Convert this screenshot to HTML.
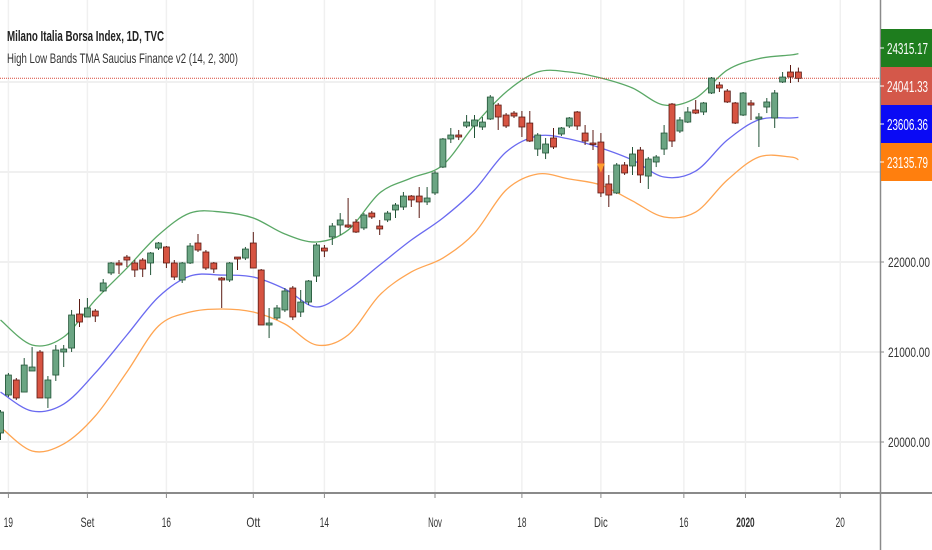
<!DOCTYPE html>
<html><head><meta charset="utf-8"><style>
html,body{margin:0;padding:0;background:#fff;}
svg{display:block;font-family:"Liberation Sans",sans-serif;}
</style></head><body>
<svg id="chart" width="932" height="550" viewBox="0 0 932 550" xmlns="http://www.w3.org/2000/svg">
<rect width="932" height="550" fill="#fff"/>
<g id="grid"></g>
<g id="bands"></g>
<g id="candles"></g>
<g id="axes"></g>
<text x="7" y="41" font-size="15" font-weight="bold" fill="#222" textLength="157" lengthAdjust="spacingAndGlyphs">Milano Italia Borsa Index, 1D, TVC</text>
<text x="7" y="63" font-size="14" fill="#333" textLength="231" lengthAdjust="spacingAndGlyphs">High Low Bands TMA Saucius Finance v2 (14, 2, 300)</text>
</svg>
<script>
const opens=[20100,20522,20689,20555,20789,21000,20489,20744,21000,21044,21422,21389,21455,21678,21878,21989,22055,21989,22022,21989,22155,22167,21989,21800,21989,22211,22111,21989,21822,21800,22055,22044,22211,21911,21300,21378,21467,21711,21444,21555,21844,22155,22278,22411,22411,22444,22378,22544,22400,22467,22578,22611,22733,22733,22667,22767,23055,23367,23411,23511,23511,23500,23589,23744,23633,23655,23611,23544,23255,23211,23378,23422,23511,23667,23433,23322,23333,22867,22767,23078,23067,23244,22955,23111,23255,23755,23455,23555,23689,23667,23878,23967,23900,23767,23633,23767,23589,23722,23600,24000,24111,24111];
const highs=[20355,20767,20711,20933,21055,21022,20733,21078,21078,21467,21589,21600,21478,21811,22000,22022,22078,22022,22044,22111,22222,22178,22022,22000,22211,22311,22133,22000,21833,22000,22044,22167,22333,21922,21489,21522,21711,21733,21689,21800,22211,22189,22433,22544,22711,22478,22544,22567,22467,22567,22655,22778,22744,22833,22833,23011,23378,23489,23467,23633,23633,23611,23855,23767,23655,23678,23678,23678,23433,23378,23489,23500,23611,23678,23522,23467,23433,22967,23100,23111,23278,23278,23167,23189,23522,23767,23611,23722,23800,23778,24055,24000,23922,23778,23889,23800,23655,23822,23911,24111,24189,24160];
const lows=[20022,20500,20467,20555,20789,20489,20378,20678,20833,21000,21278,21389,21333,21667,21855,21867,21944,21833,21833,21855,22133,21933,21800,21767,21978,22111,21911,21878,21489,21778,21911,22022,21933,21300,21155,21355,21444,21355,21389,21522,21778,22055,22189,22300,22378,22322,22355,22478,22300,22444,22489,22578,22611,22489,22633,22744,23044,23322,23355,23489,23378,23467,23578,23467,23489,23600,23389,23333,23178,23144,23255,23400,23489,23467,23300,23244,22722,22611,22755,22967,22967,22878,22811,23055,23189,23278,23433,23544,23644,23633,23867,23889,23767,23533,23622,23578,23278,23655,23489,23989,23989,23999];
const closes=[20333,20744,20489,20855,20833,20489,20689,21022,21033,21411,21333,21489,21400,21767,21989,21967,22022,21911,21922,22100,22211,21989,21833,21989,22178,22133,21933,21922,21800,21989,22033,22144,21933,21300,21322,21489,21678,21389,21555,21789,22189,22122,22400,22467,22389,22333,22522,22500,22367,22544,22633,22733,22689,22667,22711,22989,23367,23411,23389,23555,23578,23555,23833,23611,23511,23622,23500,23344,23411,23311,23278,23489,23600,23511,23344,23311,22767,22744,23078,22989,23200,22967,23144,23167,23433,23344,23578,23667,23655,23767,24044,23933,23778,23544,23878,23744,23611,23778,23878,24055,24055,24041];
const bandIdx=[0,4,8,12,16,20,24,28,32,36,40,44,48,52,56,60,64,68,72,76,80,84,88,92,96,100,101];
const upperBand=[21355,21078,21167,21578,21933,22300,22544,22555,22489,22311,22222,22355,22767,22933,23078,23522,23889,24111,24111,24044,23933,23744,23822,24133,24260,24300,24315];
const middleBand=[20555,20344,20422,20767,21189,21611,21844,21855,21833,21700,21500,21689,21967,22244,22489,22800,23222,23400,23367,23267,23133,22944,23011,23355,23580,23600,23606];
const lowerBand=[20167,19900,19978,20289,20778,21289,21444,21478,21444,21311,21078,21189,21633,21889,22044,22322,22800,22978,22922,22855,22678,22500,22555,22911,23167,23167,23136];
const yTicks=[20000,21000,22000,23000,24000];
const yTickLabels=["20000.00","21000.00","22000.00","",""];
const xTickLabels=["19","Set","16","Ott","14","Nov","18","Dic","16","2020","20"];
const xTickIdx=[1,11,21,32,41,55,66,76,86.5,94.3,106.3];
const lastValues=[24315.17,24041.33,23606.36,23135.79];

const NS="http://www.w3.org/2000/svg";
function y(p){return 442-(p-20000)*0.09;}
function x(i){return 0.5+7.9*i;}
function mk(tag,attrs,parent){const e=document.createElementNS(NS,tag);for(const k in attrs)e.setAttribute(k,attrs[k]);parent.appendChild(e);return e;}
const grid=document.getElementById('grid'),bands=document.getElementById('bands'),cg=document.getElementById('candles'),ax=document.getElementById('axes');

yTicks.forEach((t,k)=>{const l=mk('line',{x1:0,x2:880,y1:y(t),y2:y(t),stroke:'#ebebeb','stroke-width':1.5},grid);

});
xTickIdx.forEach(i=>{const l=mk('line',{x1:x(i),x2:x(i),y1:0,y2:492,stroke:'#f0f0f0','stroke-width':1.5},grid);

});

function smooth(vals){const pts=vals.map((v,k)=>[x(bandIdx[k]),y(v)]);let d='M'+pts[0][0]+','+pts[0][1];
for(let k=0;k<pts.length-1;k++){const p0=pts[Math.max(0,k-1)],p1=pts[k],p2=pts[k+1],p3=pts[Math.min(pts.length-1,k+2)];
d+=' C'+(p1[0]+(p2[0]-p0[0])/6)+','+(p1[1]+(p2[1]-p0[1])/6)+' '+(p2[0]-(p3[0]-p1[0])/6)+','+(p2[1]-(p3[1]-p1[1])/6)+' '+p2[0]+','+p2[1];}return d;}
const u=mk('path',{d:smooth(upperBand),fill:'none',stroke:'#5aa866','stroke-width':1.3},bands);


const m=mk('path',{d:smooth(middleBand),fill:'none',stroke:'#6a6af0','stroke-width':1.3},bands);


const lo=mk('path',{d:smooth(lowerBand),fill:'none',stroke:'#ffa552','stroke-width':1.3},bands);



const pl=mk('line',{x1:0,x2:880,y1:y(closes[closes.length-1]),y2:y(closes[closes.length-1]),stroke:'#d8483a','stroke-width':1,'stroke-dasharray':'1,1'},bands);



closes.forEach((c,i)=>{const o=opens[i],up=c>=o;const g=mk('g',{},cg);


const cx=x(i),stroke=up?'#225437':'#5b1a13';
mk('line',{x1:cx,x2:cx,y1:y(highs[i]),y2:y(lows[i]),stroke:stroke,'stroke-width':1},g);
const top=y(Math.max(o,c)),h=Math.max(1.5,Math.abs(y(o)-y(c)));
mk('rect',{x:cx-3,y:top,width:6,height:h,fill:up?'#6ba583':'#d75442',stroke:stroke,'stroke-width':0.8},g);});

const mkr=mk('path',{d:'M'+(x(76)-4)+','+(y(23050)-4)+' L'+(x(76)+4)+','+(y(23050)-4)+' L'+x(76)+','+(y(23050)+5)+' Z',fill:'#ff9d2e'},cg);



const va=mk('line',{x1:880.5,x2:880.5,y1:0,y2:550,stroke:'#8a8a8a','stroke-width':1.5},ax);


const ha=mk('line',{x1:0,x2:932,y1:493,y2:493,stroke:'#8a8a8a','stroke-width':2},ax);



yTicks.forEach((t,k)=>{if(!yTickLabels[k])return;
mk('line',{x1:880,x2:884,y1:y(t),y2:y(t),stroke:'#8a8a8a'},ax);
const tx=mk('text',{x:888,y:y(t)+5,'font-size':14,fill:'#333',textLength:42,lengthAdjust:'spacingAndGlyphs'},ax);


tx.textContent=yTickLabels[k];});

xTickIdx.forEach((i,k)=>{mk('line',{x1:x(i),x2:x(i),y1:494,y2:498,stroke:'#8a8a8a'},ax);
const lab=xTickLabels[k];
const tx=mk('text',{x:x(i),y:527,'font-size':14,fill:'#333','text-anchor':'middle','font-weight':lab==='2020'?'bold':'normal',textLength:lab.length*4.6,lengthAdjust:'spacingAndGlyphs'},ax);


tx.textContent=lab;});

const boxColors=['#1e7d1e','#d4584a','#0a0af5','#ff7f0e'];
const boxNames=['upper-band-value','last-price-value','middle-band-value','lower-band-value'];
lastValues.forEach((v,k)=>{const by=29+k*38;const g=mk('g',{},ax);


mk('rect',{x:881,y:by,width:51,height:38,fill:boxColors[k]},g);
mk('line',{x1:880,x2:884,y1:by+19,y2:by+19,stroke:'#fff'},g);
const t=mk('text',{x:887,y:by+25,'font-size':16,fill:'#fff',textLength:41,lengthAdjust:'spacingAndGlyphs'},g);
t.textContent=v.toFixed(2);});
</script>
</body></html>
